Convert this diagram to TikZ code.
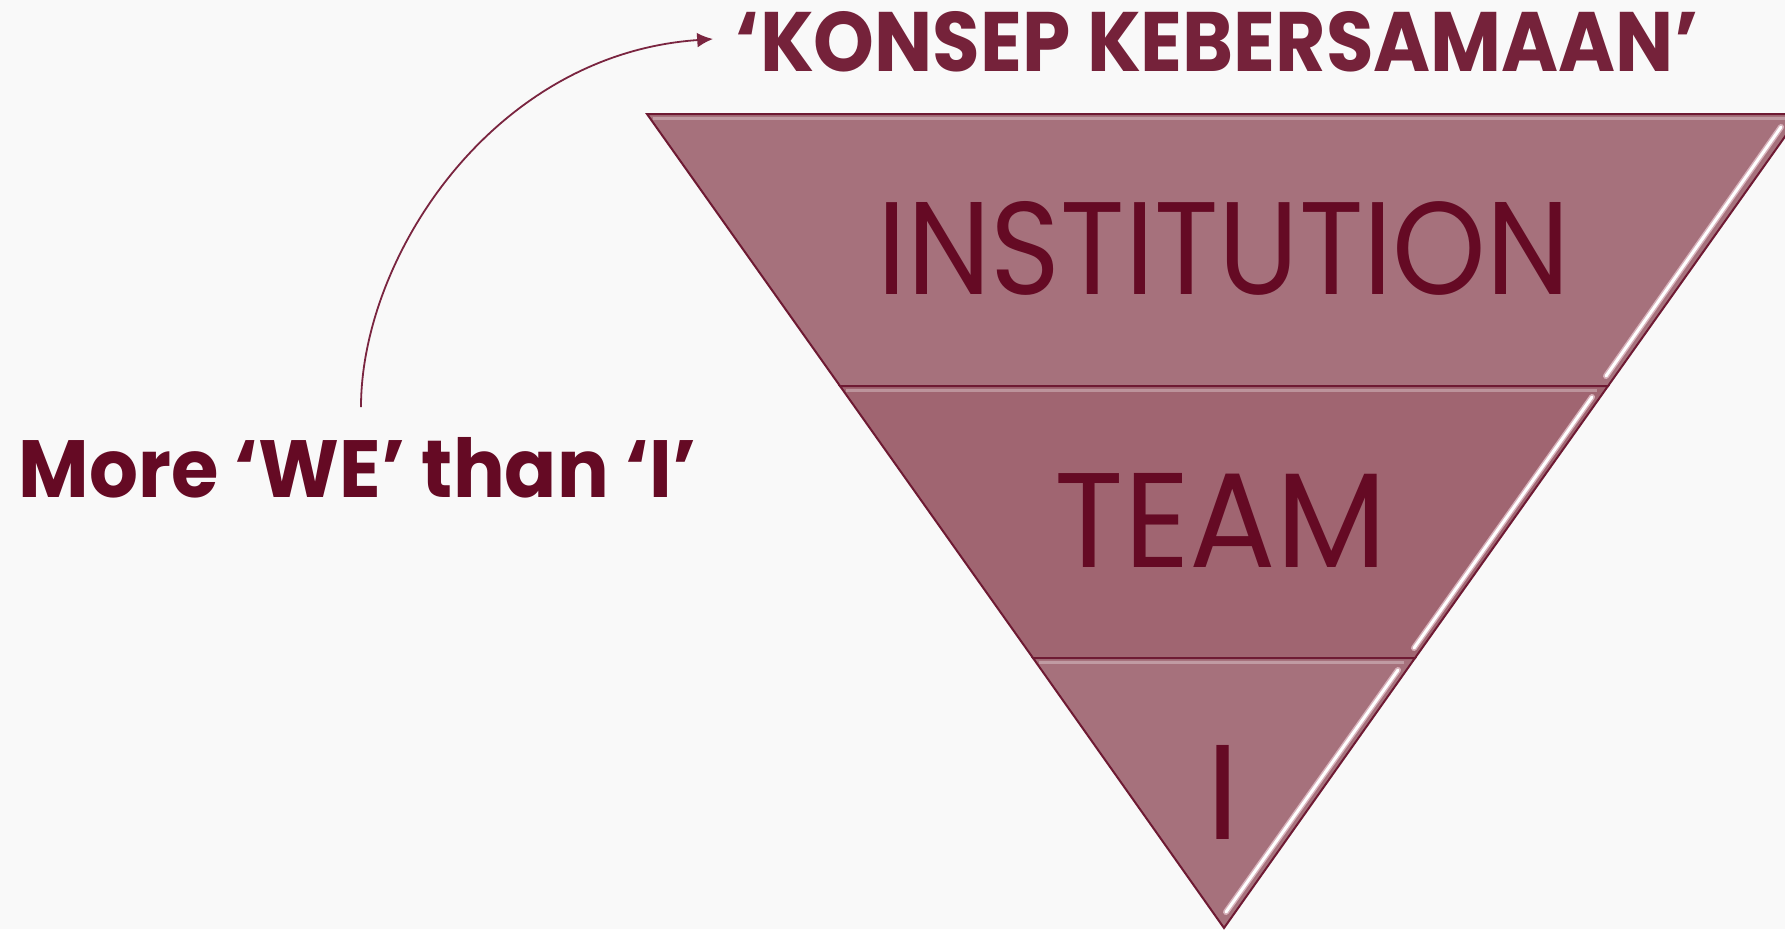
\documentclass[tikz,border=0pt]{standalone}
\usepackage{fontspec}
\usepackage{graphicx}
\setmainfont{Poppins}
\usetikzlibrary{arrows.meta, calc, positioning}

\definecolor{bgcol}{HTML}{F9F9F9}
\definecolor{secA}{HTML}{A6717C}
\definecolor{secB}{HTML}{A06571}
\definecolor{edgecol}{HTML}{6E1A33}
\definecolor{inkcol}{HTML}{650A24}
\definecolor{titlecol}{HTML}{75223A}
\definecolor{linkcol}{HTML}{7A2540}
\definecolor{glowcol}{HTML}{E4C3CB}

\tikzset{
  tri/.style={draw=edgecol, line width=0.02cm, line join=miter},
  bevel/.style={draw=white, line width=0.03cm, line cap=round,
    preaction={draw=glowcol, line width=0.06cm, line cap=round, opacity=0.8}},
  shine/.style={draw=white, line width=0.03cm, opacity=0.3},
  lbl/.style={inner sep=0, text=inkcol},
  link/.style={draw=linkcol, line width=0.018cm}
}

\begin{document}
\begin{tikzpicture}[>={Latex[length=4.5pt, width=4.2pt]}, x=0.01cm, y=0.01cm]
    \useasboundingbox (0,0) rectangle (1785,929);
    \fill[bgcol] (0,0) rectangle (1785,929);

    % the three layers
    \path[tri, fill=secA] (647,815) -- (1801,815) -- (1608,543) -- (840,543) -- cycle;
    \path[tri, fill=secB] (840,543) -- (1608,543) -- (1415,271) -- (1033,271) -- cycle;
    \path[tri, fill=secA] (1033,271) -- (1415,271) -- (1224,1) -- cycle;

    \draw[shine] (653,811) -- (1785,811);
    \draw[shine] (846,539) -- (1597,539);
    \draw[shine] (1039,267) -- (1404,267);

    \draw[bevel] (1781,802) -- (1606,553);
    \draw[bevel] (1592,532) -- (1414,281);
    \draw[bevel] (1398,259) -- (1226,17);

    \node[lbl, anchor=base west] (inst) at (877,635) {\resizebox{6.92cm}{0.93cm}{INSTITUTION}};
    \node[lbl, anchor=base west] (team) at (1054,362) {\resizebox{3.32cm}{0.94cm}{TEAM}};
    \node[lbl, anchor=base] (me) at (1223,90) {\resizebox{!}{0.94cm}{I}};

    \node[lbl, text=titlecol, anchor=base west] (konsep) at (735,858) {\resizebox{9.62cm}{0.60cm}{\bfseries `KONSEP KEBERSAMAAN'}};
    \node[lbl, anchor=base west] (we) at (18,432) {\resizebox{6.77cm}{0.60cm}{\bfseries More `WE' than `I'}};

    \coordinate (src) at (361,522);
    \coordinate (dst) at (713,890);
    \draw[link, ->] (src) .. controls (361,672) and (493,875) .. (dst);
\end{tikzpicture}
\end{document}
